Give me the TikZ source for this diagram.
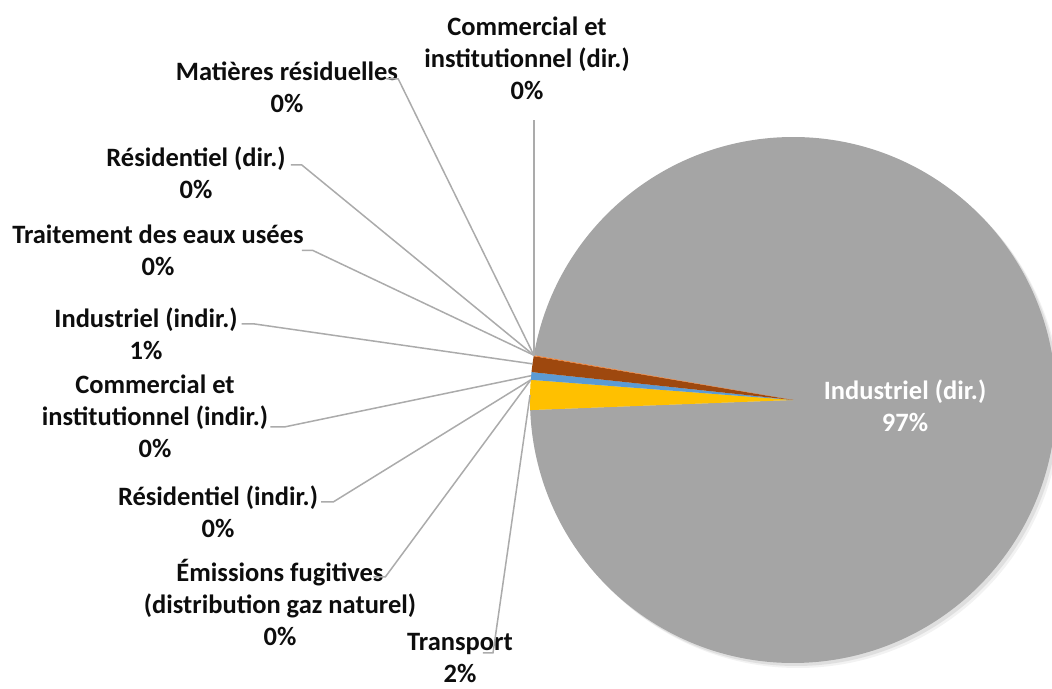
\documentclass[tikz,border=0pt]{standalone}
\usepackage{fontspec}
\setmainfont{Carlito}
\usetikzlibrary{calc,positioning}
\definecolor{indgrey}{HTML}{A5A5A5}
\definecolor{transgold}{HTML}{FFC000}
\definecolor{comblue}{HTML}{5B9BD5}
\definecolor{indbrown}{HTML}{9E480E}
\definecolor{comorange}{HTML}{ED7D31}
\tikzset{
    lbl/.style={align=center, inner sep=0pt, font=\fontsize{26.5}{32}\selectfont\bfseries, text=black!95},
    inlbl/.style={lbl, text=white},
    leader/.style={draw=black!33, line width=1.5pt},
    shade/.style={fill=black, draw=none}
}

\begin{document}
\begin{tikzpicture}[x=1pt, y=1pt]
    \useasboundingbox (0,0) rectangle (1052,688);
    \coordinate (c) at (793,288);

    % soft shadow under the pie
    \path[shade, opacity=0.05] ([shift={(5,-5)}]c) circle (263);
    \path[shade, opacity=0.08] ([shift={(3,-3)}]c) circle (263);

    % slices
    \fill[indgrey] (c) -- ++(182.2:263) arc (182.2:530.2:263) -- cycle;
    \fill[transgold] (c) -- ++(175.6:263) arc (175.6:182.2:263) -- cycle;
    \fill[comblue] (c) -- ++(173.9:263) arc (173.9:175.6:263) -- cycle;
    \fill[indbrown] (c) -- ++(170.4:263) arc (170.4:173.9:263) -- cycle;
    \fill[comorange] (c) -- ++(170.2:263) arc (170.2:170.4:263) -- cycle;

    % rim points
    \coordinate (pComDir) at ($(c)+(170.3:263)$);
    \coordinate (pMat) at ($(c)+(170.2:263)$);
    \coordinate (pResDir) at ($(c)+(170.2:263)$);
    \coordinate (pTrait) at ($(c)+(170.2:263)$);
    \coordinate (pIndInd) at ($(c)+(172.1:263)$);
    \coordinate (pComInd) at ($(c)+(174.7:263)$);
    \coordinate (pResInd) at ($(c)+(175.6:263)$);
    \coordinate (pEmi) at ($(c)+(175.6:263)$);
    \coordinate (pTransp) at ($(c)+(178.9:263)$);

    % labels
    \node[inlbl] (inddir) at (905,282) {Industriel (dir.)\\97\%};
    \node[lbl] (comdir) at (527,630) {Commercial et\\institutionnel (dir.)\\0\%};
    \node[lbl] (mat) at (287,600.5) {Matières résiduelles\\0\%};
    \node[lbl] (resdir) at (196,515.5) {Résidentiel (dir.)\\0\%};
    \node[lbl] (trait) at (158,437.5) {Traitement des eaux usées\\0\%};
    \node[lbl] (indind) at (146,354) {Industriel (indir.)\\1\%};
    \node[lbl] (comind) at (155,271.5) {Commercial et\\institutionnel (indir.)\\0\%};
    \node[lbl] (resind) at (218,176) {Résidentiel (indir.)\\0\%};
    \node[lbl] (emi) at (280,85.5) {Émissions fugitives\\(distribution gaz naturel)\\0\%};
    \node[lbl] (transp) at (460,30) {Transport\\2\%};

    % leader lines
    \path[leader] ([yshift=-20.5]comdir.south -| pComDir) -- (pComDir);
    \path[leader] ([xshift=-12,yshift=8.5]mat.east) -- ++(12,0) -- (pMat);
    \path[leader] ([xshift=5,yshift=7.5]resdir.east) -- ++(11,0) -- (pResDir);
    \path[leader] ([xshift=-2]trait.east) -- ++(11,0) -- (pTrait);
    \path[leader] ([xshift=4,yshift=10]indind.east) -- ++(13,0) -- (pIndInd);
    \path[leader] ([xshift=2,yshift=-10.5]comind.east) -- ++(14,0) -- (pComInd);
    \path[leader] ([xshift=3,yshift=10]resind.east) -- ++(12,0) -- (pResInd);
    \path[leader] ([xshift=-43,yshift=25.5]emi.east) -- ++(12,0) -- (pEmi);
    \path[leader] ([xshift=-30,yshift=5]transp.east) -- ++(10,0) -- (pTransp);
\end{tikzpicture}
\end{document}
